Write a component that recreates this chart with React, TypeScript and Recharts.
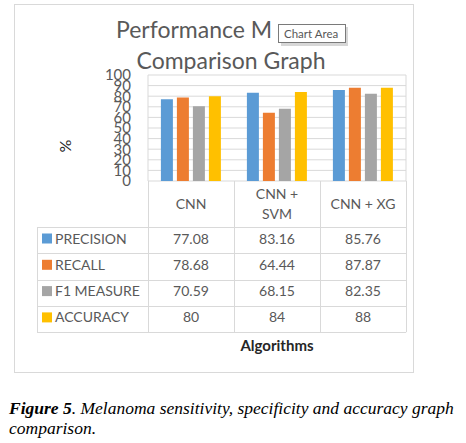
import React from "react";
import { BarChart, Bar, XAxis, YAxis, CartesianGrid } from "recharts";

// chart values
const categories = ["CNN", "CNN + SVM", "CNN + XG"];
const precision = [77.08, 83.16, 85.76];
const recall = [78.68, 64.44, 87.87];
const f1Measure = [70.59, 68.15, 82.35];
const accuracy = [80, 84, 88];
const seriesNames = ["PRECISION", "RECALL", "F1 MEASURE", "ACCURACY"];
const yTicks = [0, 10, 20, 30, 40, 50, 60, 70, 80, 90, 100];

const series = [
  { key: "precision", name: seriesNames[0], values: precision, color: "#5B9BD5" },
  { key: "recall", name: seriesNames[1], values: recall, color: "#ED7D31" },
  { key: "f1", name: seriesNames[2], values: f1Measure, color: "#A5A5A5" },
  { key: "accuracy", name: seriesNames[3], values: accuracy, color: "#FFC000" },
];

const chartData = categories.map((name, i) => {
  const row: Record<string, string | number> = { name };
  series.forEach((s) => (row[s.key] = s.values[i]));
  return row;
});

// layout
const W = 466;
const H = 443;
const PLOT_LEFT = 148;
const PLOT_RIGHT = 406;
const PLOT_TOP = 75;
const PLOT_BOTTOM = 181;
const TABLE_LEFT = 37;
const HEADER_BOTTOM = 227;
const ROW_H = 26.3;
const GRID = "#d9d9d9";
const TEXT = "#595959";
const FONT = "Lato, 'Open Sans', sans-serif";
const SERIF = "'Liberation Serif', serif";

const colW = (PLOT_RIGHT - PLOT_LEFT) / categories.length;

function wrapLabel(s: string): string[] {
  if (s.length <= 8) return [s];
  const i = s.lastIndexOf(" ");
  return [s.slice(0, i), s.slice(i + 1)];
}

function DataTable() {
  const tableBottom = HEADER_BOTTOM + ROW_H * series.length;
  const lines: React.ReactNode[] = [];
  // horizontal lines
  for (let r = 0; r <= series.length; r++) {
    const y = Math.round(HEADER_BOTTOM + r * ROW_H) + 0.5;
    lines.push(<line key={"h" + r} x1={TABLE_LEFT} x2={PLOT_RIGHT} y1={y} y2={y} stroke={GRID} />);
  }
  lines.push(
    <line key="vl" x1={TABLE_LEFT + 0.5} x2={TABLE_LEFT + 0.5} y1={HEADER_BOTTOM} y2={tableBottom} stroke={GRID} />
  );
  for (let c = 0; c <= categories.length; c++) {
    const x = Math.round(PLOT_LEFT + c * colW) + 0.5;
    lines.push(<line key={"v" + c} x1={x} x2={x} y1={PLOT_BOTTOM} y2={tableBottom} stroke={GRID} />);
  }

  return (
    <g fontFamily={FONT} fill={TEXT}>
      {lines}
      {categories.map((cat, c) => {
        const parts = wrapLabel(cat);
        const cx = PLOT_LEFT + (c + 0.5) * colW;
        const base = parts.length === 1 ? 209 : 198.5;
        return parts.map((p, k) => (
          <text key={cat + k} x={cx} y={base + k * 20} textAnchor="middle" fontSize={14}>
            {p}
          </text>
        ));
      })}
      {series.map((s, r) => {
        const baseY = HEADER_BOTTOM + r * ROW_H + 16.5;
        return (
          <g key={s.key}>
            <rect x={42} y={baseY - 10} width={10} height={10} fill={s.color} />
            <text x={55} y={baseY} fontSize={14}>
              {s.name}
            </text>
            {s.values.map((v, c) => (
              <text key={c} x={PLOT_LEFT + (c + 0.5) * colW} y={baseY} textAnchor="middle" fontSize={14}>
                {String(v)}
              </text>
            ))}
          </g>
        );
      })}
    </g>
  );
}

export default function App() {
  return (
    <div style={{ position: "absolute", left: 0, top: 0, width: W, height: H, background: "#fff" }}>
      <BarChart
        width={W}
        height={H}
        data={chartData}
        margin={{ top: PLOT_TOP, right: W - PLOT_RIGHT - 1, bottom: H - PLOT_BOTTOM, left: 0 }}
        barCategoryGap="15%"
        barGap={4}
      >
        <CartesianGrid yAxisId="l" vertical={false} stroke={GRID} />
        <XAxis dataKey="name" hide />
        <YAxis
          yAxisId="l"
          width={PLOT_LEFT}
          domain={[0, 100]}
          ticks={yTicks}
          interval={0}
          tickLine={false}
          tickSize={0}
          tickMargin={17}
          axisLine={{ stroke: GRID }}
          tick={{ fill: TEXT, fontSize: 15, fontFamily: FONT }}
        />
        <YAxis
          yAxisId="r"
          orientation="right"
          width={1}
          domain={[0, 100]}
          tick={false}
          tickLine={false}
          axisLine={{ stroke: GRID }}
        />
        {series.map((s) => (
          <Bar key={s.key} yAxisId="l" dataKey={s.key} name={s.name} fill={s.color} isAnimationActive={false} />
        ))}
      </BarChart>

      <svg
        width={W}
        height={H}
        style={{ position: "absolute", left: 0, top: 0, pointerEvents: "none" }}
      >
        <rect x={14.5} y={4.5} width={399} height={368} fill="none" stroke={GRID} />
        <text x={116} y={37.5} fontFamily={FONT} fontSize={23} fill={TEXT}>
          Performance M
        </text>
        <text x={231} y={68.5} textAnchor="middle" fontFamily={FONT} fontSize={23} fill={TEXT}>
          Comparison Graph
        </text>
        {/* hover tooltip left in the screenshot */}
        <rect x={281} y={27} width={67} height={19} fill="#bdbdbd" opacity={0.6} />
        <rect x={278.5} y={24.5} width={67} height={18} fill="#fff" stroke="#7a7a7a" />
        <text x={284} y={38.3} fontFamily={FONT} fontSize={11.5} fill="#575757">
          Chart Area
        </text>
        <text
          x={64}
          y={146}
          transform="rotate(-90 64 146)"
          textAnchor="middle"
          dominantBaseline="central"
          fontFamily={FONT}
          fontSize={16}
          fill="#262626"
        >
          %
        </text>
        <DataTable />
        <text x={277} y={350.5} textAnchor="middle" fontFamily={FONT} fontSize={15} fontWeight="bold" fill="#262626">
          Algorithms
        </text>
        <text x={9} y={413.5} fontFamily={SERIF} fontStyle="italic" fontSize={17.5} fill="#000">
          <tspan fontWeight="bold">Figure 5</tspan>. Melanoma sensitivity, specificity and accuracy graph
        </text>
        <text x={9} y={433.5} fontFamily={SERIF} fontStyle="italic" fontSize={17.5} fill="#000">
          comparison.
        </text>
      </svg>
    </div>
  );
}
